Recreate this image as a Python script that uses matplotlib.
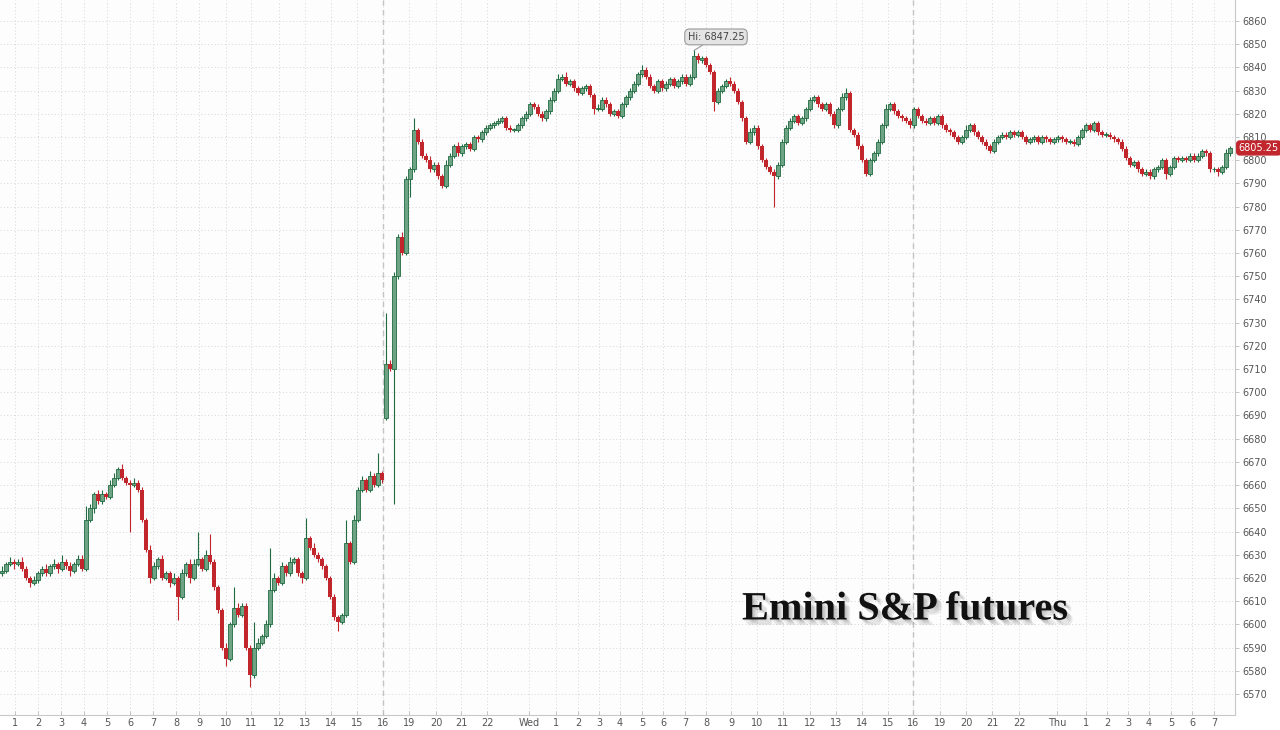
import matplotlib
matplotlib.use("Agg")
import matplotlib.pyplot as plt
import matplotlib.patheffects as pe
import numpy as np

# ---------------- data ----------------
first_open = 6622.0
closes = [
    6623, 6626, 6627, 6626, 6627, 6624, 6620, 6618, 6619, 6622,
    6624, 6622, 6625, 6626, 6624, 6627, 6625, 6623, 6626, 6628,
    6624, 6645, 6650, 6656, 6653, 6656, 6655, 6660, 6663, 6667,
    6663, 6661, 6660, 6661, 6658, 6645, 6632, 6620, 6625, 6628,
    6620, 6622, 6618, 6620, 6612, 6622, 6626, 6620, 6626, 6628,
    6624, 6630, 6627, 6616, 6606, 6590, 6585, 6600, 6607, 6604,
    6608, 6590, 6578, 6590, 6592, 6595, 6600, 6615, 6620, 6618,
    6625, 6622, 6627, 6628, 6622, 6620, 6637, 6633, 6630, 6628,
    6625, 6620, 6612, 6603, 6601, 6604, 6635, 6627, 6645, 6658,
    6662, 6658, 6664, 6660, 6665, 6662, 6712, 6710, 6750, 6767,
    6760, 6792, 6796, 6813, 6808, 6802, 6800, 6796, 6798, 6793,
    6789, 6798, 6802, 6806, 6803, 6806, 6807, 6805, 6810, 6809,
    6812, 6814, 6815, 6816, 6817, 6818, 6814, 6813, 6813, 6815,
    6818, 6820, 6824, 6823, 6820, 6818, 6821, 6826, 6830, 6835,
    6836, 6833, 6834, 6831, 6829, 6831, 6832, 6828, 6822, 6822,
    6826, 6824, 6820, 6821, 6819, 6824, 6827, 6830, 6833, 6837,
    6839, 6836, 6832, 6830, 6834, 6831, 6833, 6835, 6832, 6834,
    6836, 6833, 6836, 6845, 6843, 6844, 6841, 6838, 6825, 6830,
    6832, 6834, 6833, 6830, 6825, 6818, 6808, 6812, 6814, 6806,
    6800, 6797, 6795, 6793, 6798, 6808, 6814, 6817, 6819, 6816,
    6818, 6822, 6826, 6827, 6824, 6822, 6824, 6820, 6815, 6822,
    6827, 6829, 6813, 6811, 6806, 6800, 6794, 6800, 6803, 6808,
    6815, 6822, 6824, 6821, 6819, 6818, 6817, 6815, 6822, 6819,
    6817, 6816, 6818, 6816, 6819, 6815, 6813, 6812, 6810, 6808,
    6810, 6813, 6815, 6812, 6810, 6808, 6806, 6804, 6808, 6810,
    6811, 6810, 6812, 6811, 6812, 6810, 6808, 6809, 6810, 6808,
    6810, 6809, 6808, 6809, 6810, 6809, 6808, 6808, 6807, 6810,
    6813, 6815, 6813, 6816, 6812, 6811, 6811, 6810, 6809, 6808,
    6805, 6801, 6798, 6799, 6796, 6794, 6795, 6793, 6796, 6797,
    6800, 6794, 6797, 6801, 6800, 6801, 6800, 6802, 6800, 6802,
    6804, 6803, 6796, 6796, 6795, 6797, 6803, 6805.25,
]
hi_wick = [
    2, 1, 2, 1, 1, 2, 1, 1, 2, 1,
    1, 2, 1, 2, 1, 3, 1, 2, 1, 2,
    2, 6, 2, 1, 2, 2, 1, 2, 2, 1,
    2, 1, 1, 2, 1, 1, 1, 2, 2, 1,
    2, 1, 1, 2, 1, 2, 1, 2, 2, 12,
    1, 2, 9, 1, 1, 1, 2, 1, 9, 2,
    1, 1, 1, 11, 2, 1, 2, 18, 2, 1,
    2, 1, 2, 1, 1, 1, 9, 1, 2, 1,
    1, 1, 1, 1, 1, 1, 10, 1, 2, 1,
    2, 1, 2, 1, 9, 1, 22, 2, 2, 1,
    2, 1, 1, 5, 1, 1, 1, 2, 1, 1,
    1, 2, 1, 1, 2, 1, 1, 1, 1, 1,
    1, 1, 1, 1, 1, 1, 1, 1, 1, 1,
    1, 1, 1, 1, 1, 1, 1, 1, 1, 2,
    1, 2, 1, 1, 1, 1, 1, 1, 1, 2,
    1, 1, 1, 1, 1, 1, 1, 1, 1, 1,
    2, 1, 1, 1, 1, 1, 1, 1, 1, 1,
    1, 1, 1, 2.25, 1, 1, 1, 1, 1, 1,
    1, 1, 2, 1, 1, 1, 1, 2, 1, 1,
    1, 1, 1, 1, 1, 1, 1, 1, 1, 1,
    1, 1, 1, 1, 1, 1, 1, 1, 1, 1,
    2, 2, 1, 1, 1, 1, 1, 1, 1, 1,
    1, 2, 1, 1, 1, 1, 1, 1, 1, 1,
    1, 1, 1, 1, 1, 1, 1, 1, 1, 1,
    1, 2, 1, 1, 1, 1, 1, 1, 1, 1,
    1, 1, 1, 1, 1, 1, 1, 1, 1, 1,
    1, 1, 1, 1, 1, 1, 1, 1, 1, 1,
    1, 1, 1, 1, 1, 1, 1, 1, 1, 1,
    1, 1, 1, 1, 1, 1, 1, 1, 1, 1,
    1, 1, 1, 1, 1, 1, 1, 1, 1, 1,
    1, 1, 1, 1, 1, 1, 2, 1,
]
lo_wick = [
    1, 1, 1, 2, 1, 1, 1, 2, 1, 1,
    1, 1, 1, 1, 2, 1, 1, 2, 1, 1,
    1, 1, 1, 2, 1, 1, 1, 1, 1, 1,
    1, 1, 20, 1, 1, 1, 1, 2, 1, 1,
    1, 1, 2, 1, 10, 1, 1, 2, 1, 1,
    1, 1, 1, 1, 1, 1, 3, 1, 1, 1,
    1, 1, 5, 1, 1, 1, 1, 1, 1, 1,
    1, 1, 1, 1, 1, 2, 1, 1, 1, 1,
    1, 1, 1, 1, 4, 1, 1, 1, 1, 1,
    1, 1, 1, 1, 1, 1, 1, 1, 58, 1,
    1, 1, 8, 1, 1, 1, 1, 1, 1, 1,
    1, 1, 1, 1, 1, 1, 1, 1, 1, 1,
    1, 1, 1, 1, 1, 1, 1, 1, 1, 1,
    1, 1, 1, 1, 1, 1, 1, 1, 1, 1,
    1, 1, 1, 1, 1, 1, 1, 1, 2, 1,
    1, 1, 1, 1, 1, 1, 1, 1, 1, 1,
    1, 1, 1, 1, 1, 1, 1, 1, 1, 1,
    1, 1, 1, 1, 1, 1, 1, 1, 4, 1,
    1, 1, 1, 1, 1, 1, 1, 1, 1, 1,
    1, 1, 1, 13, 1, 1, 1, 1, 1, 1,
    1, 1, 1, 1, 1, 1, 1, 1, 1, 1,
    1, 1, 1, 1, 1, 1, 1, 1, 1, 1,
    1, 1, 1, 1, 1, 1, 1, 1, 1, 1,
    1, 1, 1, 1, 1, 1, 1, 1, 1, 1,
    1, 1, 1, 1, 1, 1, 1, 1, 1, 1,
    1, 1, 1, 1, 1, 1, 1, 1, 1, 1,
    1, 1, 1, 1, 1, 1, 1, 1, 1, 1,
    1, 1, 1, 1, 1, 1, 1, 1, 1, 1,
    1, 1, 1, 1, 1, 1, 1, 1, 1, 1,
    1, 2, 1, 1, 1, 1, 1, 1, 1, 1,
    1, 1, 1, 1, 2, 1, 1, 1,
]
gap_opens = {96: 6689.0}

tick_labels = ["1", "2", "3", "4", "5", "6", "7", "8", "9", "10", "11", "12", "13",
               "14", "15", "16", "19", "20", "21", "22", "Wed", "1", "2", "3", "4",
               "5", "6", "7", "8", "9", "10", "11", "12", "13", "14", "15", "16",
               "19", "20", "21", "22", "Thu", "1", "2", "3", "4", "5", "6", "7"]
tick_index = [3.25, 9, 14.75, 20.5, 26.25, 32, 37.75, 43.5, 49.25, 56, 62.25, 69.25,
              75.75, 82.25, 88.75, 95.25, 101.75, 108.5, 114.75, 121.25, 131.75,
              138.5, 144, 149.25, 154.5, 160, 165.25, 170.75, 176, 182.25, 188.75,
              195.25, 202, 208.5, 215, 221.5, 227.75, 234.5, 241, 247.5, 254.25,
              263.75, 271, 276.25, 281.5, 286.75, 292.25, 297.5, 303]
session_index = [95.25, 227.75]
hi_value = 6847.25
last_value = 6805.25
title = "Emini S&P futures"

# ---------------- build OHLC ----------------
c = np.array(closes, dtype=float)
o = np.concatenate([[first_open], c[:-1]])
for k, v in gap_opens.items():
    o[k] = v
h = np.maximum(o, c) + np.array(hi_wick, dtype=float)
l = np.minimum(o, c) - np.array(lo_wick, dtype=float)
x = np.arange(len(c))
up = c >= o

up_edge = "#1f6b3f"
up_face = "#6fa385"
dn_col = "#c1262d"

fig = plt.figure(figsize=(12.8, 7.3), dpi=100)
fig.patch.set_facecolor("white")
ax = fig.add_axes([0.0, 15 / 730, 1235 / 1280, 715 / 730])
ax.set_facecolor("#fdfdfd")

ax.set_xlim(-0.5, 308.25)
ax.set_ylim(6560.95, 6869.0)

# grid
yt = np.arange(6570, 6861, 10)
for v in yt:
    ax.axhline(v, color="#d6d6d6", lw=0.7, ls=(0, (1, 2.5)), zorder=0)
for t in tick_index:
    ax.axvline(t, color="#d6d6d6", lw=0.7, ls=(0, (1, 2.5)), zorder=0)
for s in session_index:
    ax.axvline(s, color="#c4c4c4", lw=1.0, ls=(0, (4, 3)), zorder=0.5)

# candles
ax.vlines(x[up], l[up], h[up], color=up_edge, lw=0.8, zorder=2)
ax.vlines(x[~up], l[~up], h[~up], color=dn_col, lw=0.8, zorder=2)
bh_up = np.maximum(c[up] - o[up], 0.4)
bh_dn = np.maximum(o[~up] - c[~up], 0.4)
ax.bar(x[up], bh_up, bottom=o[up], width=0.78, facecolor=up_face,
       edgecolor=up_edge, linewidth=0.6, zorder=3)
ax.bar(x[~up], bh_dn, bottom=c[~up], width=0.78, color=dn_col,
       linewidth=0, zorder=3)

# axes styling
for side in ("top", "left"):
    ax.spines[side].set_visible(False)
for side in ("right", "bottom"):
    ax.spines[side].set_color("#c8c8c8")
    ax.spines[side].set_linewidth(0.8)
ax.yaxis.tick_right()
ax.set_yticks(yt)
ax.set_yticklabels([str(v) for v in yt])
ax.tick_params(axis="y", direction="out", length=3, width=0.6, color="#bbbbbb",
               labelsize=7, labelcolor="#555555", pad=2)
ax.set_xticks(tick_index)
ax.set_xticklabels(tick_labels)
ax.tick_params(axis="x", direction="in", length=3, width=0.6, color="#bbbbbb",
               labelsize=7, labelcolor="#555555", pad=2)

# last price tag
ax.annotate(f"{last_value:.2f}", xy=(1.003, last_value),
            xycoords=("axes fraction", "data"), ha="left", va="center",
            fontsize=7, color="white",
            bbox=dict(boxstyle="round,pad=0.2,rounding_size=0.3",
                      fc="#c1262d", ec="#c1262d"))

# high annotation
hi_idx = int(np.argmax(h))
ax.annotate(f"Hi: {hi_value:.2f}", xy=(hi_idx, hi_value),
            xytext=(hi_idx + 5.5, 6853.1), ha="center", va="center",
            fontsize=7, color="#444444",
            bbox=dict(boxstyle="round,pad=0.3,rounding_size=0.5",
                      fc="#e4e4e4", ec="#9a9a9a", lw=0.8),
            arrowprops=dict(arrowstyle="-", color="#9a9a9a", lw=0.8,
                            shrinkA=0, shrinkB=0))

# title text with soft shadow
shadow = [pe.withSimplePatchShadow(offset=(d, -d), shadow_rgbFace="#555555",
                                   alpha=0.12) for d in (1, 2, 3, 4)]
fig.text(742 / 1280, 1 - 610 / 730, title, ha="left", va="center",
         fontsize=29, fontweight="bold", family="Liberation Serif",
         color="#111111",
         path_effects=[pe.SimplePatchShadow(offset=(d, -d), shadow_rgbFace="#666666",
                                            alpha=0.12) for d in (1, 2, 3, 4)]
         + [pe.Normal()])

fig.savefig("out.png", dpi=100, facecolor="white")
